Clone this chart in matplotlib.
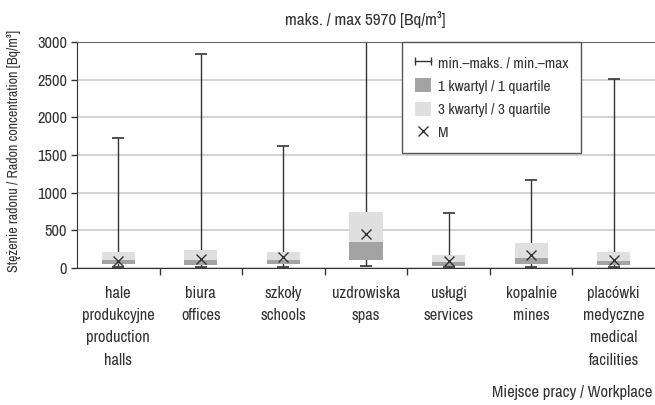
import matplotlib
matplotlib.use('Agg')
import matplotlib.pyplot as plt
from matplotlib.lines import Line2D
from matplotlib.patches import Patch
from matplotlib.legend_handler import HandlerLine2D
from matplotlib.ticker import FixedLocator

plt.rcParams['font.family'] = ['Archivo Narrow', 'DejaVu Sans']

# Data
categories = ['hale\nprodukcyjne\nproduction\nhalls', 'biura\noffices', 'szkoły\nschools',
              'uzdrowiska\nspas', 'usługi\nservices', 'kopalnie\nmines',
              'placówki\nmedyczne\nmedical\nfacilities']
mins = [13, 15, 13, 27, 10, 10, 10]
q1 = [49, 44, 57, 110, 31, 57, 44]
medians = [102, 110, 110, 349, 84, 137, 97]
q3 = [217, 243, 217, 747, 172, 336, 217]
maxs = [1720, 2840, 1620, 5970, 730, 1170, 2510]
means = [97, 124, 146, 455, 88, 172, 110]

txt = '#333333'
dark = '#a3a3a3'
light = '#dfdfdf'

fig = plt.figure(figsize=(6.55, 4.05), dpi=100)
ax = fig.add_axes([77 / 655, 1 - 268 / 405, 1 - 77 / 655, (268 - 42) / 405])

x = list(range(len(categories)))

# min-max lines with caps
ax.vlines(x, mins, maxs, color=txt, lw=1.0, zorder=2)
ax.plot(x, mins, ls='none', marker='_', ms=9, mew=1.2, color=txt, zorder=2)
ax.plot(x, maxs, ls='none', marker='_', ms=9, mew=1.2, color=txt, zorder=2)

# quartile boxes
heights_lo = [m - a for m, a in zip(medians, q1)]
heights_hi = [b - m for b, m in zip(q3, medians)]
ax.bar(x, heights_lo, bottom=q1, width=0.4, color=dark, zorder=3)
ax.bar(x, heights_hi, bottom=medians, width=0.4, color=light, zorder=3)

# mean markers
ax.plot(x, means, ls='none', marker='x', ms=7, mew=1.0, color=txt, zorder=4)

ax.set_ylim(0, 3000)
ax.set_xlim(-0.5, 6.5)
ax.set_yticks(range(0, 3001, 500))
ax.yaxis.grid(True, color='#cccccc', lw=1.2, zorder=0)
ax.set_axisbelow(True)

ax.set_xticks(x)
ax.set_xticklabels(categories, fontsize=11.8, color=txt, linespacing=1.6)
ax.tick_params(axis='x', which='major', length=0, pad=13)
ax.xaxis.set_minor_locator(FixedLocator([i + 0.5 for i in range(6)]))
ax.tick_params(axis='x', which='minor', length=5, width=1, color=txt, direction='out')
ax.tick_params(axis='y', length=4, width=1, color=txt, labelsize=11.8, labelcolor=txt, pad=3)

for s in ['left', 'bottom']:
    ax.spines[s].set_color(txt)
ax.spines['top'].set_color('#666666')
ax.spines['right'].set_visible(False)

fig.text(365 / 655, 1 - 20 / 405, 'maks. / max 5970 [Bq/m³]', ha='center', va='center',
         fontsize=12.4, color=txt)
fig.text(14 / 655, 1 - 151 / 405, 'Stężenie radonu / Radon concentration [Bq/m³]',
         rotation=90, ha='center', va='center', fontsize=10.1, color=txt)
fig.text(652 / 655, 1 - 393 / 405, 'Miejsce pracy / Workplace', ha='right', va='center',
         fontsize=12, color=txt)

h_range = Line2D([0], [0], color=txt, lw=1.0, marker='|', ms=6, mew=1.0)
h_q1 = Patch(facecolor=dark, edgecolor='none')
h_q3 = Patch(facecolor=light, edgecolor='none')
h_m = Line2D([0], [0], ls='none', marker='x', ms=7, mew=1.0, color=txt)
leg = ax.legend([h_range, h_q1, h_q3, h_m],
                ['min.–maks. / min.–max', '1 kwartyl / 1 quartile', '3 kwartyl / 3 quartile', 'M'],
                handler_map={h_range: HandlerLine2D(numpoints=2, marker_pad=0)},
                loc='upper left', bbox_to_anchor=(325 / 578, 1.0), borderaxespad=0,
                fontsize=11, frameon=True, fancybox=False, edgecolor='#555555', framealpha=1,
                handlelength=1.05, handleheight=1.0, handletextpad=0.45, labelspacing=0.55,
                borderpad=0.85, labelcolor=txt)
leg.get_frame().set_linewidth(1.0)

fig.savefig('out.png', dpi=100)
